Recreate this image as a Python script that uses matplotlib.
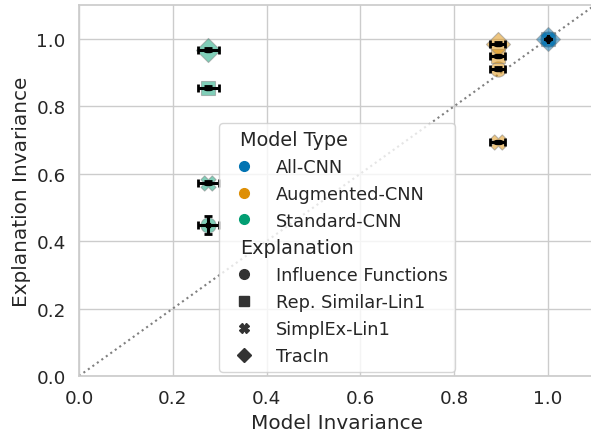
import numpy as np
import matplotlib
matplotlib.use("Agg")
import matplotlib.pyplot as plt
from matplotlib.lines import Line2D
from matplotlib.offsetbox import VPacker
import seaborn as sns

sns.set_theme(style="whitegrid", font_scale=1.2)

model_types = ["All-CNN", "Augmented-CNN", "Standard-CNN"]
explanations = ["Influence Functions", "Rep. Similar-Lin1", "SimplEx-Lin1", "TracIn"]

# model invariance per model type (mean, std)
model_inv = [1.0, 0.893, 0.276]
model_err = [0.0, 0.016, 0.022]

# explanation invariance, rows = model type, cols = explanation
expl_inv = [[1.0, 1.0, 1.0, 1.0],
            [0.911, 0.949, 0.694, 0.985],
            [0.448, 0.855, 0.573, 0.968]]
expl_err = [[0.0, 0.0, 0.0, 0.0],
            [0.004, 0.004, 0.004, 0.004],
            [0.027, 0.004, 0.004, 0.004]]

colors = ["#0173b2", "#de8f05", "#029e73"]
markers = ["o", "s", "X", "D"]
sizes = [120, 110, 120, 150]

fig = plt.figure(figsize=(5.91, 4.35), dpi=100)
ax = fig.add_axes([79/591, 58/435, 516/591, 371/435])

ax.plot([0, 1.2], [0, 1.2], ls=":", color="gray", lw=1.5, zorder=1)

for i, m in enumerate(model_types):
    for j, e in enumerate(explanations):
        x = model_inv[i]
        y = expl_inv[i][j]
        ax.scatter(x, y, s=sizes[j], marker=markers[j], color=colors[i], alpha=0.5,
                   edgecolor="gray", linewidth=0.8, zorder=3)
        ax.errorbar(x, y, xerr=model_err[i], yerr=expl_err[i][j], fmt="s", ms=2.5,
                    color="black", ecolor="black", elinewidth=2.2, capsize=3,
                    capthick=2, zorder=4)

ax.set_xlim(0, 1.1)
ax.set_ylim(0, 1.1)
ax.set_xticks([0, 0.2, 0.4, 0.6, 0.8, 1.0])
ax.set_yticks([0, 0.2, 0.4, 0.6, 0.8, 1.0])
ax.set_xlabel("Model Invariance")
ax.set_ylabel("Explanation Invariance")

handles = [Line2D([], [], visible=False)]
labels = ["Model Type"]
for i, m in enumerate(model_types):
    handles.append(Line2D([], [], ls="", marker="o", color=colors[i], ms=7))
    labels.append(m)
handles.append(Line2D([], [], visible=False))
labels.append("Explanation")
for j, e in enumerate(explanations):
    handles.append(Line2D([], [], ls="", marker=markers[j], color=".2", ms=7))
    labels.append(e)

leg = ax.legend(handles, labels, loc="upper left", borderaxespad=0, fontsize=12.75,
                bbox_to_anchor=(219/591, 1 - 124/435), bbox_transform=fig.transFigure)
leg.set_zorder(5)

# shift subtitle entries left and enlarge them, like seaborn does
for vpack in leg.findobj(VPacker)[:-1]:
    for hpack in vpack.get_children():
        draw_area, text_area = hpack.get_children()
        if not all(a.get_visible() for a in draw_area.get_children()):
            draw_area.set_width(0)
            for t in text_area.get_children():
                t.set_fontsize(13.85)

fig.savefig("out.png", dpi=100)
